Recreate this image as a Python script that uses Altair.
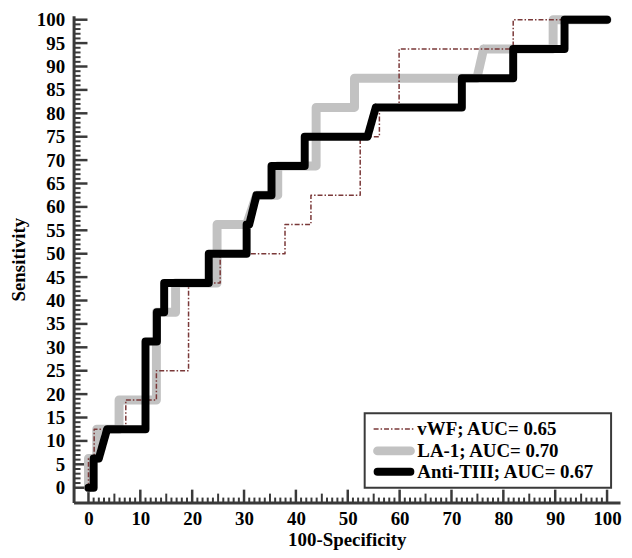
import altair as alt
import pandas as pd

# ---------------- data ----------------
series_names = ["vWF; AUC= 0.65", "LA-1; AUC= 0.70", "Anti-TIII; AUC= 0.67"]

vwf_x = [0, 0, 1.1, 1.1, 7.2, 7.2, 13.1, 13.1, 19.3, 19.3, 25.4, 25.4, 37.9, 37.9,
         42.9, 42.9, 52.4, 52.4, 56.1, 56.1, 59.9, 59.9, 81.9, 81.9, 100]
vwf_y = [0, 6.25, 6.25, 12.5, 12.5, 18.75, 18.75, 25, 25, 43.75, 43.75, 50, 50, 56.25,
         56.25, 62.5, 62.5, 75, 75, 81.25, 81.25, 93.75, 93.75, 100, 100]

la1_x = [0, 0, 1.6, 1.6, 5.9, 5.9, 13.1, 13.1, 16.8, 16.8, 24.8, 24.8, 30.5, 32.4,
         36.5, 36.5, 43.9, 43.9, 51.3, 51.3, 74.9, 76.2, 89.6, 89.6, 100]
la1_y = [0, 6.25, 6.25, 12.5, 12.5, 18.75, 18.75, 37.5, 37.5, 43.75, 43.75, 56.25, 56.25, 62.5,
         62.5, 68.75, 68.75, 81.25, 81.25, 87.5, 87.5, 93.75, 93.75, 100, 100]

anti_x = [0, 1.0, 1.0, 2.0, 3.6, 11.0, 11.0, 13.2, 13.2, 14.6, 14.6, 23.2, 23.2, 30.5, 30.5,
          31.0, 32.4, 35.3, 35.3, 41.7, 41.7, 53.8, 55.4, 72.0, 72.0, 81.9, 81.9, 91.8, 91.8, 100]
anti_y = [0, 0, 6.25, 6.25, 12.5, 12.5, 31.25, 31.25, 37.5, 37.5, 43.75, 43.75, 50, 50, 56.25,
          56.25, 62.5, 62.5, 68.75, 68.75, 75, 75, 81.25, 81.25, 87.5, 87.5, 93.75, 93.75, 100, 100]

x_tick_labels = list(range(0, 101, 10))
y_tick_labels = list(range(0, 101, 5))
x_mid_ticks = list(range(5, 100, 10))
x_minor_ticks = [v for v in range(0, 101) if v % 5 != 0]
y_minor_ticks = [v for v in range(0, 101) if v % 5 != 0]

# ---------------- styling ----------------
W, H = 550, 490
FONT = "Liberation Serif"
AX = "#3a3a3a"
colors = ["#7a3838", "#c2c2c2", "#000000"]
widths = [1.5, 9, 8]
dashes = [[5, 2, 1.5, 2], [1, 0], [1, 0]]
caps = ["butt", "round", "round"]

xscale = alt.Scale(domain=[-2.87, 102.5], nice=False, zero=False)
yscale = alt.Scale(domain=[-3.17, 100.85], nice=False, zero=False)

xaxis = alt.Axis(title="100-Specificity", values=x_tick_labels, grid=False, ticks=False, tickSize=0,
                 domainColor=AX, domainWidth=3, labelFont=FONT, labelFontSize=19,
                 labelFontWeight="bold", labelColor="black", labelPadding=22,
                 labelBaseline="alphabetic", labelFlush=False, labelOverlap=False,
                 titleFont=FONT, titleFontSize=19, titleFontWeight="bold", titleColor="black",
                 titleBaseline="alphabetic", titleY=43)
yaxis = alt.Axis(title="Sensitivity", values=y_tick_labels, grid=False, ticks=False, tickSize=0,
                 domainColor=AX, domainWidth=3, labelFont=FONT, labelFontSize=19,
                 labelFontWeight="bold", labelColor="black", labelPadding=9,
                 labelFlush=False, labelOverlap=False,
                 titleFont=FONT, titleFontSize=19, titleFontWeight="bold", titleColor="black",
                 titleX=-45, titleY=H / 2)


def frame(name, xs, ys):
    return pd.DataFrame({"series": name, "x": xs, "y": ys, "i": range(len(xs))})


def line(k, xs, ys):
    return alt.Chart(frame(series_names[k], xs, ys)).mark_line(
        strokeCap=caps[k], strokeJoin="round", color=colors[k],
        strokeWidth=widths[k], strokeDash=dashes[k]).encode(
        x=alt.X("x:Q", scale=xscale, axis=xaxis),
        y=alt.Y("y:Q", scale=yscale, axis=yaxis),
        order=alt.Order("i:Q"),
    )


def xticks(vals, length, width):
    return alt.Chart(pd.DataFrame({"x": vals})).mark_rule(color=AX, strokeWidth=width).encode(
        x=alt.X("x:Q", scale=xscale, axis=xaxis), y=alt.value(H), y2=alt.value(H - length))


def yticks(vals, length, width):
    return alt.Chart(pd.DataFrame({"y": vals})).mark_rule(color=AX, strokeWidth=width).encode(
        y=alt.Y("y:Q", scale=yscale, axis=yaxis), x=alt.value(0), x2=alt.value(length))


# ---------------- legend (box, line samples, labels) ----------------
LX0, LX1, LY0, LY1 = 293, 541, 400, 475
rows = [416, 438, 459]

legend_box = alt.Chart(pd.DataFrame({"a": [0]})).mark_rect(
    fill="white", stroke=AX, strokeWidth=2).encode(
    x=alt.value(LX0), x2=alt.value(LX1), y=alt.value(LY0), y2=alt.value(LY1))

legend_layers = [legend_box]
for k, name in enumerate(series_names):
    d = pd.DataFrame({"name": [name]})
    legend_layers.append(
        alt.Chart(d).mark_rule(color=colors[k], strokeWidth=widths[k], strokeDash=dashes[k],
                               strokeCap=caps[k]).encode(
            x=alt.value(LX0 + 9 + (4 if caps[k] == "round" else 0)),
            x2=alt.value(LX0 + 50 - (4 if caps[k] == "round" else 0)),
            y=alt.value(rows[k])))
    legend_layers.append(
        alt.Chart(d).mark_text(align="left", baseline="middle", font=FONT, fontSize=19,
                               fontWeight="bold", color="black").encode(
            text=alt.Text("name:N"), x=alt.value(LX0 + 53), y=alt.value(rows[k])))

chart = alt.layer(
    xticks(x_tick_labels, 13, 2.5),
    xticks(x_mid_ticks, 9, 2),
    xticks(x_minor_ticks, 5, 2),
    yticks(y_tick_labels, 14, 2.5),
    yticks(y_minor_ticks, 7, 2),
    line(1, la1_x, la1_y),
    line(0, vwf_x, vwf_y),
    line(2, anti_x, anti_y),
    *legend_layers,
).properties(
    width=W, height=H,
    autosize=alt.AutoSizeParams(type="none"),
    padding={"left": 66, "top": 6, "right": 4, "bottom": 50},
).configure_view(strokeWidth=0)

chart.save("out.html", embed_options={"renderer": "svg", "actions": False})
